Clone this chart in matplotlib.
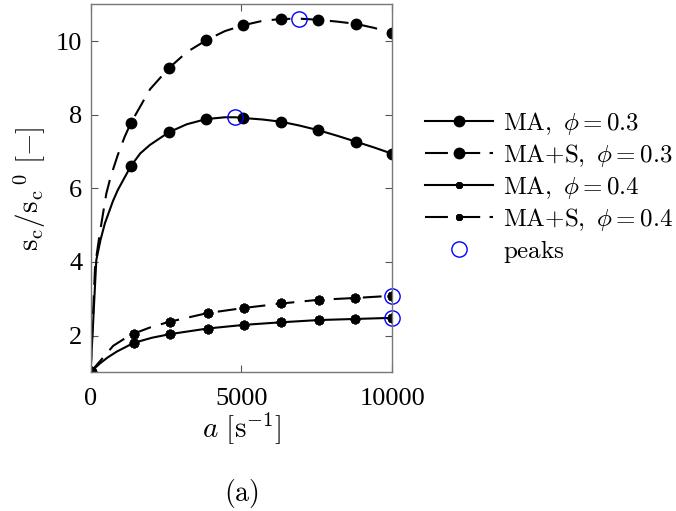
import matplotlib
matplotlib.use("Agg")
import matplotlib.pyplot as plt

plt.rcParams['font.family'] = ['Liberation Serif', 'DejaVu Serif']
plt.rcParams['mathtext.fontset'] = 'cm'

# curve samples
a_line_ma03 = [0, 190, 330, 475, 630, 740, 900, 1100, 1340, 1650, 1970, 2590, 3190, 3830, 4450, 4800,
               5060, 5700, 6310, 6900, 7550, 8170, 8790, 9400, 10000]
s_line_ma03 = [1, 4.05, 4.6, 5.05, 5.4, 5.65, 5.95, 6.25, 6.61, 6.95, 7.18, 7.52, 7.74, 7.88, 7.93, 7.93,
               7.91, 7.87, 7.81, 7.71, 7.58, 7.43, 7.27, 7.11, 6.94]
a_line_mas03 = [0, 150, 300, 440, 520, 630, 740, 900, 1130, 1340, 1970, 2590, 3190, 3830, 4450, 5060,
                5700, 6310, 6920, 7550, 8170, 8790, 9400, 10000]
s_line_mas03 = [1, 3.9, 4.75, 5.45, 5.85, 6.2, 6.5, 6.9, 7.4, 7.78, 8.69, 9.26, 9.7, 10.02, 10.27, 10.43,
                10.55, 10.6, 10.61, 10.58, 10.53, 10.47, 10.36, 10.22]
a_line_ma04 = [0, 120, 310, 560, 863, 1430, 2040, 2650, 3880, 5100, 6330, 7560, 8780, 10000]
s_line_ma04 = [1, 1.1, 1.24, 1.4, 1.56, 1.80, 1.94, 2.04, 2.19, 2.29, 2.36, 2.42, 2.45, 2.48]
a_line_mas04 = [0, 120, 310, 750, 1250, 1430, 2040, 2650, 3880, 5100, 6330, 7560, 8780, 10000]
s_line_mas04 = [1, 1.12, 1.3, 1.72, 1.98, 2.05, 2.24, 2.38, 2.61, 2.75, 2.87, 2.97, 3.02, 3.08]

# marker positions
a_mk03 = [0, 1340, 2590, 3830, 5060, 6310, 7550, 8790, 10000]
s_mk_ma03 = [1, 6.61, 7.52, 7.88, 7.91, 7.81, 7.58, 7.27, 6.94]
s_mk_mas03 = [1, 7.78, 9.26, 10.02, 10.43, 10.6, 10.58, 10.47, 10.22]
a_mk04 = [0, 1430, 2650, 3880, 5100, 6330, 7560, 8780, 10000]
s_mk_ma04 = [1, 1.80, 2.04, 2.19, 2.29, 2.36, 2.42, 2.45, 2.48]
s_mk_mas04 = [1, 2.05, 2.38, 2.61, 2.75, 2.87, 2.97, 3.02, 3.08]

# peaks
a_peaks = [4800, 6920, 10000, 10000]
s_peaks = [7.93, 10.6, 3.08, 2.48]

fig = plt.figure(figsize=(6.76, 5.11), dpi=100)
ax = fig.add_axes([0.134, 0.2714, 0.446, 0.7202])

lw = 1.5
dash = (9, 5)
ast = (8, 2, 0)

ax.plot(a_line_ma03, s_line_ma03, color='k', lw=lw)
ax.plot(a_line_mas03, s_line_mas03, color='k', lw=lw, dashes=dash)
ax.plot(a_line_ma04, s_line_ma04, color='k', lw=lw)
ax.plot(a_line_mas04, s_line_mas04, color='k', lw=lw, dashes=dash)

ax.plot(a_mk03, s_mk_ma03, 'o', color='k', ms=7.5)
ax.plot(a_mk03, s_mk_mas03, 'o', color='k', ms=7.5)
ax.plot(a_mk04, s_mk_ma04, ls='none', marker=ast, color='k', ms=7, mew=2)
ax.plot(a_mk04, s_mk_mas04, ls='none', marker=ast, color='k', ms=7, mew=2)
ax.plot(a_peaks, s_peaks, 'o', mfc='none', mec='#0000ff', ms=11, mew=1, clip_on=False)

ax.set_xlim(0, 10000)
ax.set_ylim(1, 11)
ax.set_xticks([0, 5000, 10000])
ax.set_yticks([2, 4, 6, 8, 10])
ax.tick_params(direction='in', top=True, right=True, labelsize=19, length=5, color='#555555')
ax.tick_params(axis='x', pad=11)
ax.tick_params(axis='y', pad=6)
for sp in ax.spines.values():
    sp.set_color('#777777')
    sp.set_linewidth(1)

ax.set_xlabel(r'$a\ [\mathrm{s}^{-1}]$', fontsize=21, labelpad=0)
ax.set_ylabel(r'$\mathrm{s_c/s_c}^{\,0}\ [-]$', fontsize=21, labelpad=6)
fig.text(0.357, 0.02, r'$\mathrm{(a)}$', fontsize=20, ha='center')

# legend handles
h1, = ax.plot([], [], '-o', color='k', lw=lw, ms=7.5)
h2, = ax.plot([], [], 'o', color='k', lw=lw, ms=7.5, ls=(0, (11, 4.5)))
h3, = ax.plot([], [], '-', marker=ast, color='k', lw=lw, ms=5, mew=2)
h4, = ax.plot([], [], marker=ast, color='k', lw=lw, ms=5, mew=2, ls=(0, (11, 4.5)))
h5, = ax.plot([], [], 'o', mfc='none', mec='#0000ff', ms=11, mew=1)
labels = [r'$\mathrm{MA},\ \phi = 0.3$', r'$\mathrm{MA{+}S},\ \phi = 0.3$',
          r'$\mathrm{MA},\ \phi = 0.4$', r'$\mathrm{MA{+}S},\ \phi = 0.4$', r'$\mathrm{peaks}$']
fig.legend([h1, h2, h3, h4, h5], labels, loc='center left', bbox_to_anchor=(0.6287, 0.634),
           frameon=False, fontsize=18, handlelength=2.7, handletextpad=0.4, borderpad=0,
           borderaxespad=0, labelspacing=0.2)

fig.savefig('out.png', dpi=100)
